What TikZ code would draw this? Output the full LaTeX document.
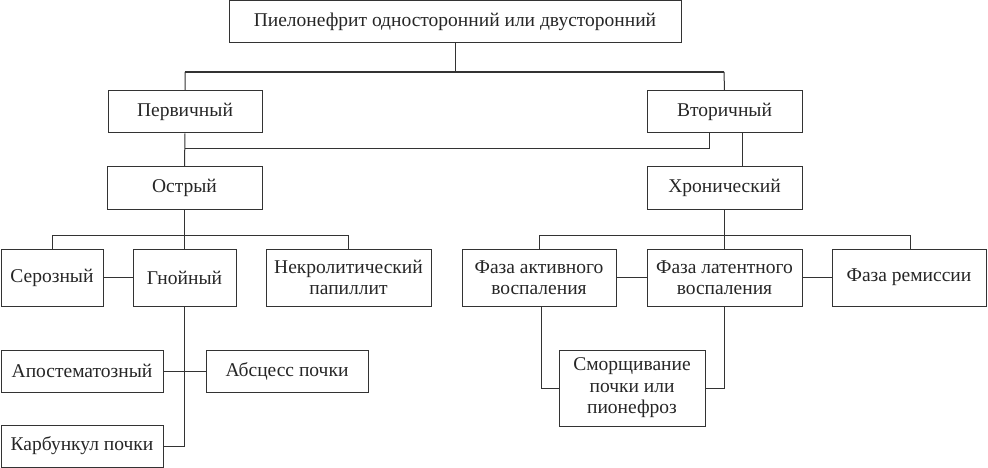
\documentclass[tikz,border=0pt]{standalone}
\usepackage{fontspec}
\setmainfont{Liberation Serif}
\colorlet{lcol}{black!80!white}
\tikzstyle{box}=[draw=lcol, line width=1pt, rectangle, inner sep=0pt, align=center, text=black!85, font=\fontsize{19.5}{21.5}\selectfont, minimum height=42pt]
\tikzstyle{tbox}=[box, minimum height=57pt]
\tikzstyle{edge}=[line width=1pt, lcol]
\tikzstyle{bedge}=[edge, line width=1.7pt]

\begin{document}
\begin{tikzpicture}[x=1pt, y=-1pt]
	\useasboundingbox (0,0) rectangle (988,468);

	\node[box, minimum width=452pt] (top) at (455,22) {Пиелонефрит односторонний или двусторонний};
	\node[box, minimum width=154pt] (perv) at (185,112) {Первичный};
	\node[box, minimum width=155pt] (vtor) at (724.5,112) {Вторичный};
	\node[box, minimum width=155pt] (ostr) at (184.5,188) {Острый};
	\node[box, minimum width=155pt] (hron) at (724.5,188) {Хронический};

	\node[tbox, minimum width=102pt] (seroz) at (52,277.5) {Серозный};
	\node[tbox, minimum width=103pt] (gnoi) at (184.5,277.5) {Гнойный};
	\node[tbox, minimum width=165pt] (nekro) at (348.5,277.5) {Некролитический\\папиллит};
	\node[tbox, minimum width=154pt] (akt) at (539,277.5) {Фаза активного\\воспаления};
	\node[tbox, minimum width=155pt] (lat) at (724.5,277.5) {Фаза латентного\\воспаления};
	\node[tbox, minimum width=154pt] (rem) at (909,277.5) {Фаза ремиссии};

	\node[box, minimum width=162pt] (apost) at (82,371) {Апостематозный};
	\node[box, minimum width=162pt] (absc) at (287,371) {Абсцесс почки};
	\node[box, minimum width=162pt] (karb) at (82,446) {Карбункул почки};
	\node[box, minimum width=146pt, minimum height=76pt] (smor) at (632,388) {Сморщивание\\почки или\\пионефроз};

	% Junctions
	\coordinate (jtop) at (455,72);
	\coordinate (jperv) at (185,72);
	\coordinate (jvtor) at (724,72);
	\coordinate (jmid) at (185,149);
	\coordinate (jostr) at (184.5,235);
	\coordinate (jhron) at (724.5,235);

	% Top level
	\draw[edge] (top.south) -- (jtop);
	\draw[bedge] (jperv) -- (jvtor);
	\draw[edge] (jperv) -- (perv.north) (jvtor) -- (vtor.north);
	% Second level
	\draw[edge] (perv.south) -- (ostr.north);
	\draw[edge] (jmid) -| ([xshift=-15.5pt]vtor.south);
	\draw[edge] ([xshift=17.5pt]vtor.south) -- ([xshift=17.5pt]hron.north);
	% Acute
	\draw[edge] (ostr.south) -- (gnoi.north);
	\draw[edge] (jostr) -| (seroz.north) (jostr) -| (nekro.north);
	\draw[edge] (seroz.east) -- (gnoi.west);
	\draw[edge] (gnoi.south) |- (karb.east);
	\draw[edge] (apost.east) -- (absc.west);
	% Chronic
	\draw[edge] (hron.south) -- (lat.north);
	\draw[edge] (jhron) -| (akt.north) (jhron) -| ([xshift=1pt]rem.north);
	\draw[edge] (akt.east) -- (lat.west) (lat.east) -- (rem.west);
	\draw[edge] ([xshift=2pt]akt.south) |- (smor.west);
	\draw[edge] (lat.south) |- (smor.east);
\end{tikzpicture}
\end{document}
